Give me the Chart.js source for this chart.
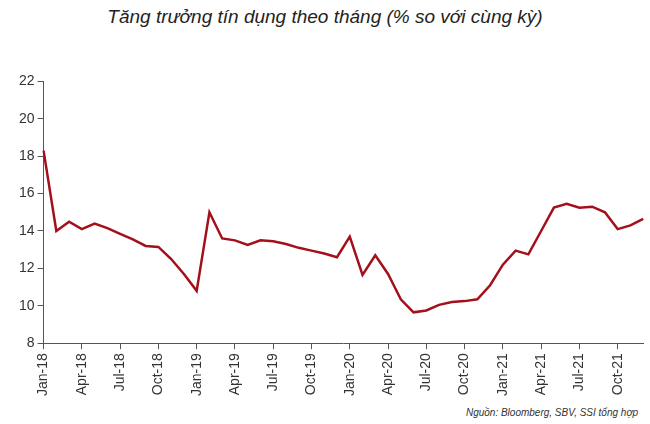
<!DOCTYPE html><html><head><meta charset="utf-8">
<script src="https://cdn.jsdelivr.net/npm/chart.js@4"></script>
<style>body{margin:0;background:#fff;width:650px;height:424px;position:relative;overflow:hidden;font-family:Arial,"Liberation Sans",sans-serif}
#t{position:absolute;top:6px;left:0;width:650px;text-align:center;font-style:italic;font-size:19px;color:#222}
#s{position:absolute;right:12px;bottom:6px;font-style:italic;font-size:10px;color:#333}
#w{position:absolute;left:0;top:70px;width:664px;height:330px}</style></head><body>
<div id="t">Tăng trưởng tín dụng theo tháng (% so với cùng kỳ)</div>
<div id="w"><canvas id="c"></canvas></div>
<div id="s">Nguồn: Bloomberg, SBV, SSI tổng hợp</div>
<script>
const months=["Jan","Feb","Mar","Apr","May","Jun","Jul","Aug","Sep","Oct","Nov","Dec"];
const years=["18","19","20","21"];
const categories=[];years.forEach(y=>months.forEach(m=>categories.push(m+"-"+y)));
const creditGrowth=[18.3,14.0,14.5,14.1,14.4,14.15,13.85,13.55,13.2,13.15,12.5,11.7,
10.8,15.0,13.6,13.5,13.25,13.5,13.45,13.3,13.1,12.95,12.8,12.6,
13.7,11.65,12.7,11.7,10.35,9.65,9.75,10.05,10.2,10.25,10.35,11.1,
12.2,12.95,12.75,14.0,15.25,15.45,15.25,15.3,15.0,14.1,14.3,14.65];
const yTicks=[8,10,12,14,16,18,20,22];
new Chart(document.getElementById('c'),{type:'line',
data:{labels:categories,datasets:[{data:creditGrowth,borderColor:'#a3101c',borderWidth:2.5,pointRadius:0,tension:0}]},
options:{responsive:true,maintainAspectRatio:false,animation:false,
layout:{padding:{left:16,right:0,top:6,bottom:0}},
plugins:{legend:{display:false},tooltip:{enabled:false}},
scales:{
x:{offset:false,border:{color:'#555'},
grid:{drawOnChartArea:false,tickLength:6,color:c=>c.index%3===0?'#555':'rgba(0,0,0,0)'},
ticks:{autoSkip:false,maxRotation:90,minRotation:90,color:'#333',font:{size:14},padding:4,
callback:(v,i)=>i%3===0?categories[i]:''}},
y:{min:yTicks[0],max:yTicks[yTicks.length-1],border:{color:'#555'},
grid:{drawOnChartArea:false,tickLength:6,color:'#555'},
afterBuildTicks:a=>{a.ticks=yTicks.map(v=>({value:v}));},
ticks:{color:'#333',font:{size:14}}}}}});
</script></body></html>
